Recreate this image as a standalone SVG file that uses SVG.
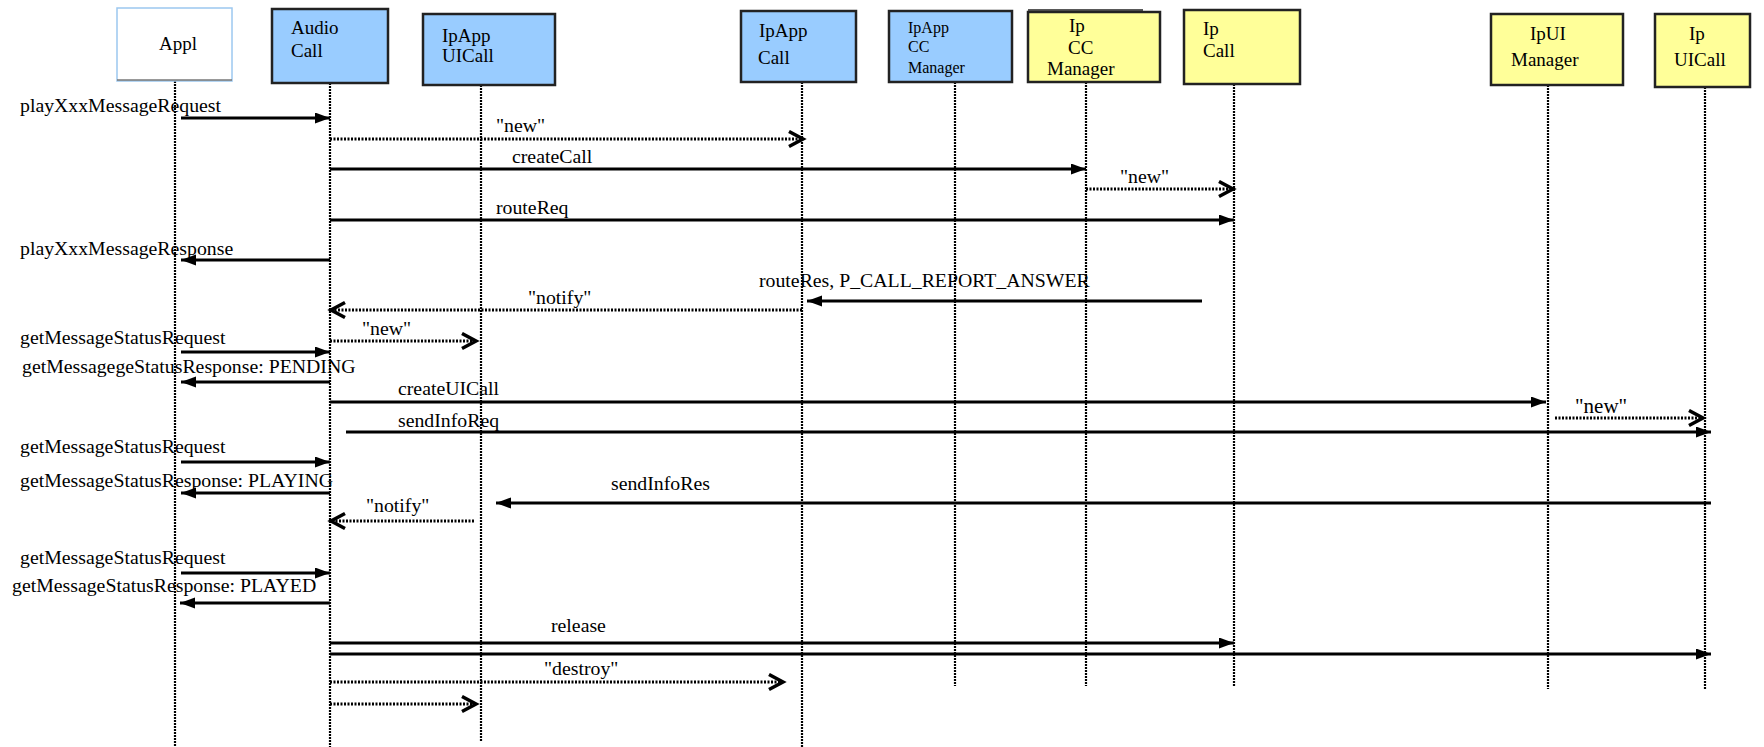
<svg xmlns="http://www.w3.org/2000/svg" width="1764" height="747" viewBox="0 0 1764 747">
<style>
text{font-family:"Liberation Serif","Times New Roman",serif;font-size:19px;fill:#000}
.lbl text{font-size:19.8px}
.sm{font-size:16px}
.box{stroke:#222;stroke-width:2.5}
.blue{fill:#99CCFF}
.yel{fill:#FFFF99}
.life{stroke:#000;stroke-width:2.2;stroke-dasharray:2 1;fill:none}
.sol{stroke:#000;stroke-width:3;fill:none;marker-end:url(#tri)}
.dot{stroke:#000;stroke-width:3;stroke-dasharray:2 1.5;fill:none;marker-end:url(#open)}
</style>
<defs>
<marker id="tri" markerUnits="userSpaceOnUse" markerWidth="16" markerHeight="12" refX="15" refY="5.5" orient="auto">
<path d="M0,0 L15,5.5 L0,11 z" fill="#000"/>
</marker>
<marker id="open" markerUnits="userSpaceOnUse" markerWidth="20" markerHeight="20" refX="16" refY="9" orient="auto">
<path d="M2,1.5 L16,9 L2,16.5" fill="none" stroke="#000" stroke-width="3.5"/>
</marker>
</defs>
<rect width="1764" height="747" fill="#fff"/>

<g id="lifelines">
<line class="life" x1="175" y1="81" x2="175" y2="747"/>
<line class="life" x1="330" y1="83" x2="330" y2="747"/>
<line class="life" x1="481" y1="85" x2="481" y2="741"/>
<line class="life" x1="802" y1="82" x2="802" y2="747"/>
<line class="life" x1="955" y1="82" x2="955" y2="686"/>
<line class="life" x1="1086" y1="82" x2="1086" y2="686"/>
<line class="life" x1="1234" y1="84" x2="1234" y2="686"/>
<line class="life" x1="1548" y1="85" x2="1548" y2="689"/>
<line class="life" x1="1705" y1="87" x2="1705" y2="689"/>
</g>

<g id="node-appl">
<rect x="117" y="8" width="115" height="73" fill="#fff" stroke="#9CC8F0" stroke-width="1.5"/>
<line x1="117" y1="80" x2="232" y2="80" stroke="#777" stroke-width="1.5"/>
<text x="159" y="50">Appl</text>
</g>
<g id="node-audiocall">
<rect class="box blue" x="272" y="9" width="116" height="74"/>
<text x="291" y="34">Audio</text>
<text x="291" y="57">Call</text>
</g>
<g id="node-ipappuicall">
<rect class="box blue" x="423" y="14" width="132" height="71"/>
<text x="442" y="42">IpApp</text>
<text x="442" y="62">UICall</text>
</g>
<g id="node-ipappcall">
<rect class="box blue" x="741" y="11" width="115" height="71"/>
<text x="759" y="37">IpApp</text>
<text x="758" y="64">Call</text>
</g>
<g id="node-ipappccmanager">
<rect class="box blue" x="889" y="11" width="123" height="71"/>
<text class="sm" x="908" y="33">IpApp</text>
<text class="sm" x="908" y="52">CC</text>
<text class="sm" x="908" y="73">Manager</text>
</g>
<g id="node-ipccmanager">
<line x1="1028" y1="10" x2="1143" y2="10" stroke="#222" stroke-width="1.5"/>
<rect class="box yel" x="1028" y="12" width="132" height="70"/>
<text x="1069" y="32">Ip</text>
<text x="1068" y="54">CC</text>
<text x="1047" y="75">Manager</text>
</g>
<g id="node-ipcall">
<rect class="box yel" x="1184" y="10" width="116" height="74"/>
<text x="1203" y="35">Ip</text>
<text x="1203" y="57">Call</text>
</g>
<g id="node-ipuimanager">
<rect class="box yel" x="1491" y="14" width="132" height="71"/>
<text x="1530" y="40">IpUI</text>
<text x="1511" y="66">Manager</text>
</g>
<g id="node-ipuicall">
<rect class="box yel" x="1655" y="14" width="95" height="73"/>
<text x="1689" y="40">Ip</text>
<text x="1674" y="66">UICall</text>
</g>

<g id="connectors">
<line class="sol" x1="181" y1="118" x2="330" y2="118"/>
<line class="dot" x1="330" y1="139" x2="803" y2="139"/>
<line class="sol" x1="330" y1="169" x2="1086" y2="169"/>
<line class="dot" x1="1086" y1="189" x2="1233" y2="189"/>
<line class="sol" x1="330" y1="220" x2="1234" y2="220"/>
<line class="sol" x1="330" y1="260" x2="181" y2="260"/>
<line class="sol" x1="1202" y1="301" x2="807" y2="301"/>
<line class="dot" x1="802" y1="310" x2="331" y2="310"/>
<line class="dot" x1="330" y1="341" x2="476" y2="341"/>
<line class="sol" x1="181" y1="352" x2="330" y2="352"/>
<line class="sol" x1="330" y1="382" x2="181" y2="382"/>
<line class="sol" x1="330" y1="402" x2="1546" y2="402"/>
<line class="dot" x1="1555" y1="418" x2="1703" y2="418"/>
<line class="sol" x1="346" y1="432" x2="1711" y2="432"/>
<line class="sol" x1="181" y1="462" x2="330" y2="462"/>
<line class="sol" x1="330" y1="493" x2="181" y2="493"/>
<line class="sol" x1="1711" y1="503" x2="496" y2="503"/>
<line class="dot" x1="474" y1="521" x2="331" y2="521"/>
<line class="sol" x1="181" y1="573" x2="330" y2="573"/>
<line class="sol" x1="330" y1="603" x2="180" y2="603"/>
<line class="sol" x1="330" y1="643" x2="1234" y2="643"/>
<line class="sol" x1="330" y1="654" x2="1711" y2="654"/>
<line class="dot" x1="330" y1="682" x2="783" y2="682"/>
<line class="dot" x1="330" y1="704" x2="476" y2="704"/>
</g>

<g id="labels" class="lbl">
<text x="20" y="112">playXxxMessageRequest</text>
<text x="496" y="132">"new"</text>
<text x="512" y="163">createCall</text>
<text x="1120" y="183">"new"</text>
<text x="496" y="214">routeReq</text>
<text x="20" y="255">playXxxMessageResponse</text>
<text x="759" y="287">routeRes, P_CALL_REPORT_ANSWER</text>
<text x="528" y="304">"notify"</text>
<text x="362" y="335">"new"</text>
<text x="20" y="344">getMessageStatusRequest</text>
<text x="22" y="373">getMessagegeStatusResponse: PENDING</text>
<text x="398" y="395">createUICall</text>
<text x="1575" y="413" style="font-size:21px">"new"</text>
<text x="398" y="427">sendInfoReq</text>
<text x="20" y="453">getMessageStatusRequest</text>
<text x="20" y="487">getMessageStatusResponse: PLAYING</text>
<text x="611" y="490">sendInfoRes</text>
<text x="366" y="512">"notify"</text>
<text x="20" y="564">getMessageStatusRequest</text>
<text x="12" y="592">getMessageStatusResponse: PLAYED</text>
<text x="551" y="632">release</text>
<text x="544" y="675">"destroy"</text>
</g>
</svg>
